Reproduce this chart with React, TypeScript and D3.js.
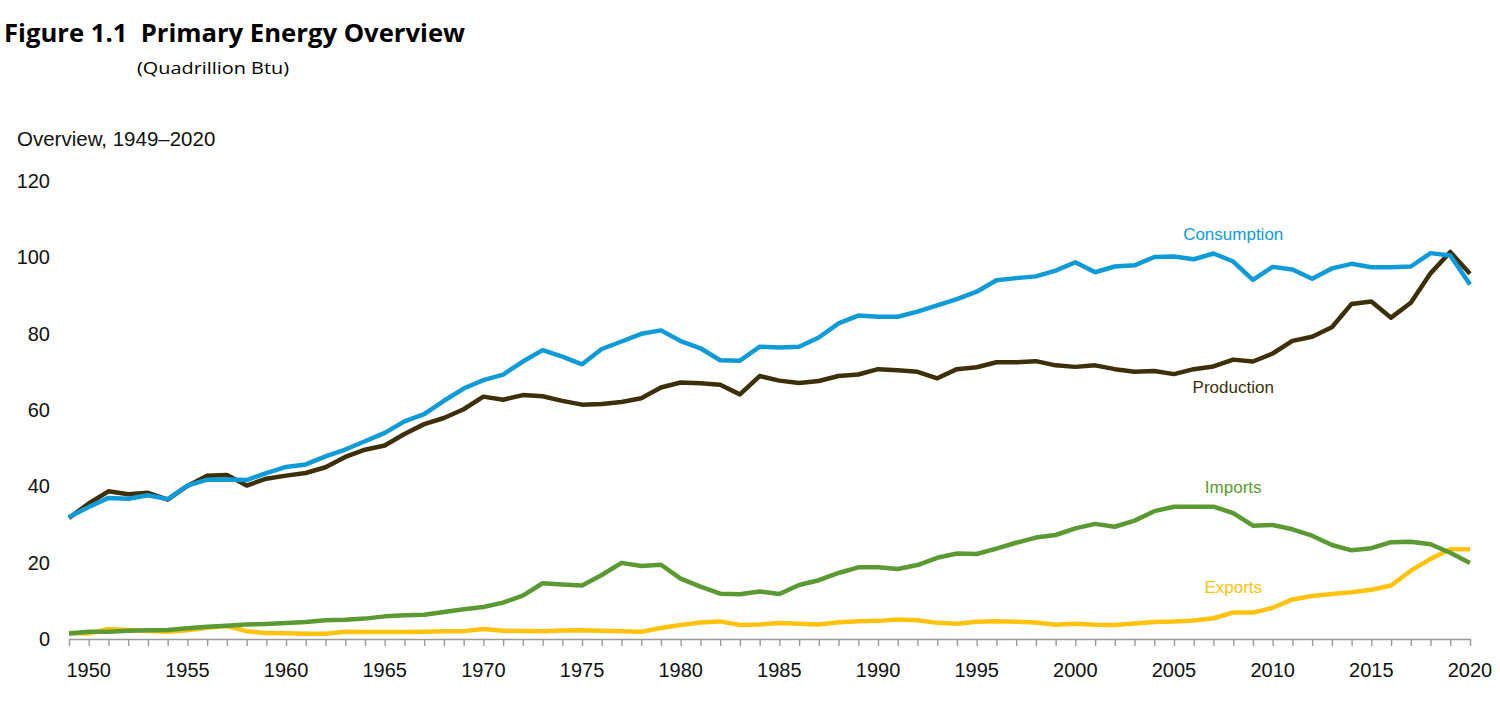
import * as d3 from "d3";
import { useEffect, useRef } from "react";

const years = d3.range(1949, 2021);

const consumption = [
  31.98, 34.6, 36.97, 36.75, 37.66, 36.64, 40.2, 41.75, 41.79, 41.65, 43.47,
  45.09, 45.74, 47.83, 49.65, 51.82, 54.02, 57.01, 58.91, 62.42, 65.62, 67.84,
  69.29, 72.7, 75.68, 73.96, 71.97, 75.98, 77.95, 79.96, 80.86, 78.07, 76.17,
  73.04, 72.93, 76.57, 76.35, 76.56, 79.0, 82.71, 84.75, 84.43, 84.43, 85.76,
  87.43, 89.05, 91.0, 93.98, 94.55, 95.01, 96.5, 98.7, 96.1, 97.6, 97.9,
  100.1, 100.2, 99.5, 101.0, 98.9, 94.1, 97.5, 96.8, 94.4, 97.1, 98.3, 97.4,
  97.4, 97.6, 101.1, 100.5, 92.9,
];

const production = [
  31.7, 35.5, 38.7, 37.9, 38.3, 36.5, 40.1, 42.8, 43.0, 40.2, 42.0, 42.8,
  43.5, 45.0, 47.7, 49.6, 50.7, 53.7, 56.3, 57.9, 60.2, 63.5, 62.7, 63.9,
  63.6, 62.4, 61.4, 61.6, 62.1, 63.1, 65.9, 67.2, 67.0, 66.6, 64.1, 68.9,
  67.7, 67.1, 67.6, 68.9, 69.3, 70.7, 70.4, 70.0, 68.3, 70.7, 71.2, 72.5,
  72.5, 72.8, 71.7, 71.3, 71.7, 70.7, 70.0, 70.2, 69.4, 70.7, 71.4, 73.2,
  72.7, 74.8, 78.1, 79.2, 81.7, 87.8, 88.4, 84.2, 88.1, 95.8, 101.4, 95.7,
];

const imports = [
  1.43, 1.91, 1.89, 2.15, 2.31, 2.36, 2.79, 3.21, 3.5, 3.79, 3.95, 4.19, 4.47,
  4.9, 5.02, 5.34, 5.93, 6.2, 6.34, 7.1, 7.8, 8.4, 9.54, 11.37, 14.61, 14.3,
  14.03, 16.76, 19.95, 19.11, 19.46, 15.8, 13.72, 11.86, 11.75, 12.47, 11.78,
  14.15, 15.4, 17.3, 18.77, 18.82, 18.33, 19.37, 21.27, 22.39, 22.26, 23.7,
  25.22, 26.58, 27.25, 28.97, 30.16, 29.41, 31.01, 33.49, 34.66, 34.68, 34.68,
  32.99, 29.69, 29.87, 28.75, 27.07, 24.62, 23.24, 23.79, 25.38, 25.46, 24.83,
  22.6, 19.9,
];

const exports = [
  1.59, 1.47, 2.62, 2.37, 2.12, 1.92, 2.29, 2.95, 3.41, 2.05, 1.54, 1.48,
  1.38, 1.38, 1.91, 1.85, 1.83, 1.83, 1.88, 2.02, 2.06, 2.63, 2.15, 2.12,
  2.05, 2.2, 2.32, 2.17, 2.05, 1.92, 2.86, 3.69, 4.31, 4.61, 3.69, 3.79, 4.2,
  4.02, 3.81, 4.37, 4.66, 4.75, 5.14, 4.94, 4.23, 4.01, 4.51, 4.63, 4.51,
  4.3, 3.72, 4.01, 3.73, 3.67, 4.05, 4.43, 4.56, 4.87, 5.43, 6.95, 6.92, 8.18,
  10.37, 11.27, 11.79, 12.27, 12.9, 14.0, 17.9, 21.0, 23.5, 23.5,
];

const seriesNames = ["Exports", "Imports", "Production", "Consumption"];
const seriesValues = [exports, imports, production, consumption];
const seriesColors = ["#ffc20e", "#5b9a32", "#3d3009", "#0f9ad8"];

// where the inline labels sit (year, value)
const labelYears = [2008, 2008, 2008, 2008];
const labelValues = [12, 38.2, 64.4, 104.5];

const yTicks = [0, 20, 40, 60, 80, 100, 120];
const xLabelYears = d3.range(1950, 2021, 5);

export default function App() {
  const ref = useRef<SVGSVGElement | null>(null);

  useEffect(() => {
    const svg = d3.select(ref.current);
    svg.selectAll("*").remove();

    const width = 1500;
    const height = 702;
    const font = "'Liberation Sans', Arial, sans-serif";

    svg.attr("width", width).attr("height", height);

    const x = d3.scaleLinear().domain([1949, 2020]).range([69, 1470]);
    const y = d3.scaleLinear().domain([0, 120]).range([639, 181]);

    // titles
    svg
      .append("text")
      .attr("x", 4)
      .attr("y", 42)
      .attr("font-family", "'Open Sans', 'Noto Sans', sans-serif")
      .attr("font-weight", "bold")
      .attr("font-size", 25)
      .attr("textLength", 461)
      .attr("lengthAdjust", "spacingAndGlyphs")
      .attr("fill", "#000")
      .style("white-space", "pre")
      .text("Figure 1.1  Primary Energy Overview");

    svg
      .append("text")
      .attr("x", 137)
      .attr("y", 74)
      .attr("font-family", "'Open Sans', 'Noto Sans', sans-serif")
      .attr("font-size", 16)
      .attr("textLength", 152)
      .attr("lengthAdjust", "spacingAndGlyphs")
      .attr("fill", "#000")
      .text("(Quadrillion Btu)");

    svg
      .append("text")
      .attr("x", 17)
      .attr("y", 146)
      .attr("font-family", font)
      .attr("font-size", 20.5)
      .attr("fill", "#111")
      .text("Overview, 1949–2020");

    // y labels
    svg
      .append("g")
      .selectAll("text")
      .data(yTicks)
      .enter()
      .append("text")
      .attr("x", 50)
      .attr("y", (d) => y(d))
      .attr("dy", "0.35em")
      .attr("text-anchor", "end")
      .attr("font-family", font)
      .attr("font-size", 20)
      .attr("fill", "#111")
      .text((d) => d);

    // x axis
    const xAxis = d3
      .axisBottom(x)
      .tickValues(years)
      .tickSize(7)
      .tickSizeOuter(0)
      .tickFormat(() => "");

    const axisG = svg
      .append("g")
      .attr("transform", `translate(0, ${y(0)})`)
      .call(xAxis);
    axisG.select(".domain").attr("stroke", "#9a9a9a").attr("stroke-width", 1.6);
    axisG.selectAll(".tick line").attr("stroke", "#9a9a9a").attr("stroke-width", 1.4);

    svg
      .append("g")
      .selectAll("text")
      .data(xLabelYears)
      .enter()
      .append("text")
      .attr("x", (d) => x(d))
      .attr("y", 677)
      .attr("text-anchor", "middle")
      .attr("font-family", font)
      .attr("font-size", 20)
      .attr("fill", "#111")
      .text((d) => d);

    // lines
    const line = d3
      .line<number>()
      .x((_, i) => x(years[i]))
      .y((d) => y(d));

    svg
      .append("g")
      .selectAll("path")
      .data(seriesValues)
      .enter()
      .append("path")
      .attr("d", (d) => line(d) || "")
      .attr("fill", "none")
      .attr("stroke", (_, i) => seriesColors[i])
      .attr("stroke-width", 4.5)
      .attr("stroke-linejoin", "round");

    // inline labels
    svg
      .append("g")
      .selectAll("text")
      .data(seriesNames)
      .enter()
      .append("text")
      .attr("x", (_, i) => x(labelYears[i]))
      .attr("y", (_, i) => y(labelValues[i]))
      .attr("text-anchor", "middle")
      .attr("font-family", font)
      .attr("font-size", 17)
      .attr("fill", (_, i) => seriesColors[i])
      .text((d) => d);
  }, []);

  return (
    <div style={{ position: "absolute", left: 0, top: 0, background: "#fff" }}>
      <svg ref={ref}></svg>
    </div>
  );
}
